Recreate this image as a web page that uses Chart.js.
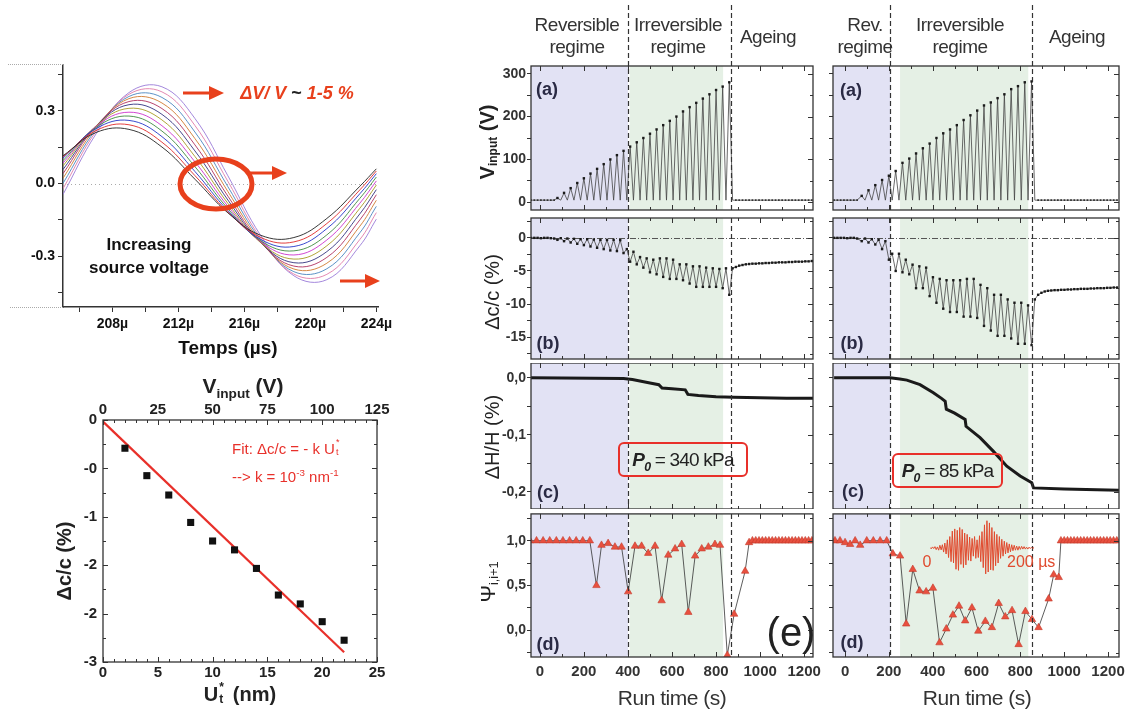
<!DOCTYPE html>
<html>
<head>
<meta charset="utf-8">
<title>Nonlinear acoustics figure</title>
<script src="https://cdn.jsdelivr.net/npm/chart.js@4.4.1/dist/chart.umd.min.js"></script>
<style>
  body { margin: 0; width: 1129px; height: 711px; position: relative; overflow: hidden; background: #fff;
         font-family: "Liberation Sans", Arial, sans-serif; color: #333; }
  canvas { position: absolute; }
  .lbl { position: absolute; white-space: nowrap; transform: translate(-50%, -50%); line-height: 1; }
  .rot { transform: translate(-50%, -50%) rotate(-90deg); }
  .head { font-size: 19px; line-height: 22px; text-align: center; letter-spacing: -0.5px; color: #333; }
  .pl { font-weight: bold; font-size: 18px; color: #2a2a44; }
  .box { position: absolute; border: 2px solid #e8302a; border-radius: 6px; box-sizing: border-box;
         display: flex; align-items: center; justify-content: center; font-size: 19px; letter-spacing: -0.8px; color: #222; }
  .dots { position: absolute; height: 0; border-top: 1px dotted #aaa; }
  sub, sup { font-size: 65%; line-height: 0; }
  .tsub { font-size: 60%; vertical-align: -0.25em; }
  .st { position: relative; display: inline-block; width: 9px; height: 1em; vertical-align: top; }
  .st span { position: absolute; left: 1px; font-size: 60%; }
</style>
</head>
<body>
<canvas id="sine" width="400" height="297" style="left:0px;top:40px"></canvas>
<canvas id="dcfit" width="360" height="290" style="left:40px;top:398px"></canvas>

<canvas id="Ra" width="309" height="214" style="left:820px;top:0px"></canvas>
<canvas id="Rb" width="309" height="149" style="left:820px;top:214px"></canvas>
<canvas id="Rc" width="309" height="146" style="left:820px;top:363px"></canvas>
<canvas id="Rd" width="309" height="178" style="left:820px;top:509px"></canvas>
<canvas id="La" width="345" height="214" style="left:480px;top:0px"></canvas>
<canvas id="Lb" width="345" height="149" style="left:480px;top:214px"></canvas>
<canvas id="Lc" width="345" height="146" style="left:480px;top:363px"></canvas>
<canvas id="Ld" width="345" height="178" style="left:480px;top:509px"></canvas>
<canvas id="burst" width="104" height="60" style="left:930px;top:518px"></canvas>

<!-- top-left annotations -->
<div class="dots" style="left:8px;top:64px;width:55px"></div>
<div class="dots" style="left:10px;top:307px;width:53px"></div>
<svg width="1129" height="711" style="position:absolute;left:0;top:0">
  <ellipse cx="216" cy="184" rx="36" ry="25" fill="none" stroke="#e8401c" stroke-width="5"/>
  <g stroke="#e8401c" stroke-width="3" fill="#e8401c">
    <line x1="183" y1="93" x2="212" y2="93"/><polygon points="209,86 224,93 209,100" stroke="none"/>
    <line x1="250" y1="173" x2="275" y2="173"/><polygon points="272,166 287,173 272,180" stroke="none"/>
    <line x1="340" y1="281" x2="368" y2="281"/><polygon points="365,274 380,281 365,288" stroke="none"/>
  </g>
</svg>
<div class="lbl" style="left:297px;top:93px;font-size:18px;font-weight:bold;font-style:italic;color:#e8401c">
  ΔV/ V <span style="color:#222;font-style:normal">~</span> 1-5 %</div>
<div class="lbl" style="left:149px;top:256px;font-size:17px;font-weight:bold;color:#111;line-height:23px;text-align:center">Increasing<br>source voltage</div>
<div class="lbl" style="left:228px;top:347px;font-size:19px;font-weight:bold;color:#111">Temps (µs)</div>

<!-- bottom-left annotations -->
<div class="lbl" style="left:243px;top:385px;font-size:21px;font-weight:bold;color:#222">V<sub>input</sub> (V)</div>
<div class="lbl rot" style="left:64px;top:561px;font-size:20px;font-weight:bold;color:#222">Δc/c (%)</div>
<div class="lbl" style="left:240px;top:694px;font-size:20px;font-weight:bold;color:#222">U<span class="st"><span style="top:-3px">*</span><span style="top:9px">t</span></span> (nm)</div>
<div style="position:absolute;left:232px;top:441px;font-size:15px;line-height:1;color:#e8302a;white-space:nowrap">Fit: Δc/c = - k U<span class="st" style="width:7px"><span style="top:-3px">*</span><span style="top:7px">t</span></span></div>
<div style="position:absolute;left:232px;top:469px;font-size:15px;line-height:1;color:#e8302a;white-space:nowrap">--&gt; k = 10<sup>-3</sup> nm<sup>-1</sup></div>

<!-- right figure headers and titles -->
<div class="lbl head" style="left:577px;top:36px">Reversible<br>regime</div>
<div class="lbl head" style="left:678px;top:36px">Irreversible<br>regime</div>
<div class="lbl head" style="left:768px;top:37px">Ageing</div>
<div class="lbl head" style="left:865px;top:36px">Rev.<br>regime</div>
<div class="lbl head" style="left:960px;top:36px">Irreversible<br>regime</div>
<div class="lbl head" style="left:1077px;top:37px">Ageing</div>

<div class="lbl rot" style="left:488px;top:142px;font-size:20px;font-weight:bold;color:#222">V<span class="tsub">input</span> (V)</div>
<div class="lbl rot" style="left:492px;top:292px;font-size:20px;color:#222">Δc/c (%)</div>
<div class="lbl rot" style="left:492px;top:437px;font-size:20px;color:#222">ΔH/H (%)</div>
<div class="lbl rot" style="left:489px;top:582px;font-size:21px;color:#222">Ψ<span class="tsub">i,i+1</span></div>

<div class="lbl pl" style="left:547px;top:89px">(a)</div>
<div class="lbl pl" style="left:548px;top:343px">(b)</div>
<div class="lbl pl" style="left:548px;top:492px">(c)</div>
<div class="lbl pl" style="left:548px;top:644px">(d)</div>
<div class="lbl pl" style="left:851px;top:90px">(a)</div>
<div class="lbl pl" style="left:852px;top:343px">(b)</div>
<div class="lbl pl" style="left:853px;top:491px">(c)</div>
<div class="lbl pl" style="left:852px;top:642px">(d)</div>

<div class="box" style="left:618px;top:442px;width:130px;height:35px"><i><b>P<sub>0</sub></b></i>&nbsp;= 340 kPa</div>
<div class="box" style="left:892px;top:453px;width:111px;height:35px"><i><b>P<sub>0</sub></b></i>&nbsp;= 85 kPa</div>

<div class="lbl" style="left:927px;top:562px;font-size:16px;color:#e04a2e">0</div>
<div style="position:absolute;left:1007px;top:553px;font-size:16px;color:#e04a2e;white-space:nowrap">200 µs</div>
<div class="lbl" style="left:791px;top:632px;font-size:40px;color:#222">(e)</div>
<div class="lbl" style="left:672px;top:697px;font-size:21px;color:#333;letter-spacing:-0.5px">Run time (s)</div>
<div class="lbl" style="left:977px;top:697px;font-size:21px;color:#333;letter-spacing:-0.5px">Run time (s)</div>

<script>
// ---- top left: received signals, one trace per source voltage (V), read at sample times (µs)
const sineTimes = [205, 207, 209, 211, 213, 215, 217, 219, 221, 223, 224];
const sineTraces = [
  [0.115, 0.211, 0.224, 0.151, 0.018, -0.121, -0.214, -0.223, -0.144, -0.011, 0.061],
  [0.111, 0.219, 0.243, 0.171, 0.033, -0.118, -0.223, -0.241, -0.165, -0.026, 0.052],
  [0.105, 0.227, 0.261, 0.194, 0.050, -0.112, -0.231, -0.260, -0.186, -0.042, 0.041],
  [0.095, 0.232, 0.279, 0.217, 0.070, -0.104, -0.237, -0.278, -0.212, -0.061, 0.027],
  [0.085, 0.236, 0.295, 0.239, 0.090, -0.094, -0.241, -0.295, -0.233, -0.081, 0.011],
  [0.073, 0.238, 0.311, 0.263, 0.112, -0.082, -0.245, -0.312, -0.257, -0.102, -0.006],
  [0.058, 0.238, 0.326, 0.286, 0.135, -0.068, -0.245, -0.327, -0.281, -0.125, -0.025],
  [0.041, 0.237, 0.339, 0.310, 0.160, -0.052, -0.244, -0.341, -0.305, -0.150, -0.046],
  [0.022, 0.231, 0.351, 0.333, 0.186, -0.033, -0.240, -0.353, -0.329, -0.176, -0.069],
  [0.001, 0.224, 0.360, 0.356, 0.213, -0.013, -0.234, -0.364, -0.352, -0.203, -0.094],
  [-0.021, 0.216, 0.369, 0.379, 0.240, 0.009, -0.227, -0.374, -0.375, -0.231, -0.120],
  [-0.045, 0.205, 0.376, 0.400, 0.269, 0.032, -0.216, -0.381, -0.397, -0.257, -0.147],
];
const sineColors = ['#222222', '#e02a2a', '#2436c8', '#3f8a3f', '#cc33cc', '#a89a22',
                    '#33337f', '#b0305e', '#d07a30', '#4a86c0', '#e07aa8', '#9a7ad8'];

// ---- bottom left: velocity change vs displacement
const utNm = [2, 4, 6, 8, 10, 12, 14, 16, 18, 20, 22];
const dcMeasured = [-0.35, -0.69, -0.93, -1.27, -1.50, -1.61, -1.84, -2.17, -2.28, -2.50, -2.73];
const fitUt = [0, 22];
const fitDc = [-0.02, -2.88];
const dcTickLabels = ['0', '-0', '-1', '-2', '-2', '-3'];

// ---- right figure, left column (P0 = 340 kPa), times in s
const leftCycleT = [80, 110, 140, 170, 200, 230, 260, 290, 320, 350, 380, 410, 440, 470, 500, 530, 560,
                    590, 620, 650, 680, 710, 740, 770, 800, 830, 860];
const leftVPeak = [10, 22, 33, 45, 56, 67, 78, 89, 100, 110, 120, 130, 140, 150, 160, 170, 180,
                   190, 200, 212, 222, 232, 242, 252, 262, 270, 280];
const leftDcLow = [-0.3, -0.5, -0.7, -0.9, -1.1, -1.3, -1.5, -1.7, -1.9, -2.0, -2.3, -3.6, -4.0, -4.5, -5.2, -5.5, -5.9,
                   -6.2, -6.2, -6.4, -6.9, -7.4, -7.4, -7.4, -7.4, -7.6, -8.6];
const leftDcHigh = [-0.05, -0.1, -0.15, -0.2, -0.2, -0.25, -0.3, -0.3, -0.3, -0.35, -1.7, -2.1, -2.9, -3.1, -3.3, -3.1, -3.1,
                    -3.3, -4.0, -4.0, -4.3, -4.3, -4.5, -4.6, -4.7, -4.6, -4.6];
const leftPreT = [-40, -25, -10, 5, 20, 35, 50, 65];
const leftVPre = [5, 5, 5, 5, 5, 5, 5, 5];
const leftDcPre = [0, 0, 0, -0.05, 0, 0, -0.05, -0.1];
const leftPostT = [890, 905, 920, 935, 950, 965, 980, 995, 1010, 1025, 1040, 1055, 1070, 1085, 1100, 1115,
                   1130, 1145, 1160, 1175, 1190, 1205, 1220, 1235];
const leftVPost = [5, 5, 5, 5, 5, 5, 5, 5, 5, 5, 5, 5, 5, 5, 5, 5, 5, 5, 5, 5, 5, 5, 5, 5];
const leftDcPost = [-4.4, -4.2, -4.1, -4.0, -3.95, -3.9, -3.9, -3.85, -3.85, -3.8, -3.8, -3.75, -3.75, -3.7, -3.7, -3.7,
                    -3.65, -3.65, -3.6, -3.6, -3.6, -3.55, -3.55, -3.5];
const leftHT = [-40, 380, 420, 460, 500, 540, 555, 600, 660, 672, 720, 800, 880, 1000, 1120, 1240];
const leftHV = [0, -0.001, -0.003, -0.006, -0.009, -0.012, -0.018, -0.019, -0.021, -0.029, -0.031, -0.033,
                -0.034, -0.035, -0.036, -0.036];
const leftPsiT = [-45, -15, 15, 45, 75, 105, 135, 165, 195, 227, 257, 280, 310, 341, 371, 401, 432, 462, 492, 523,
                  553, 583, 614, 644, 674, 705, 735, 765, 795, 818, 851, 882, 932, 950, 965, 980, 995, 1010, 1025,
                  1040, 1055, 1070, 1085, 1100, 1115, 1130, 1145, 1160, 1175, 1190, 1205, 1220, 1235];
const leftPsiV = [1, 1, 1, 1, 1, 1, 1, 1, 1, 1, 0.5, 0.95, 0.97, 0.93, 0.93, 0.43, 0.94, 0.94, 0.86, 0.94,
                  0.33, 0.84, 0.91, 0.96, 0.2, 0.83, 0.91, 0.93, 0.96, 0.95, -0.28, 0.18, 0.66, 0.98, 1, 1, 1, 1, 1,
                  1, 1, 1, 1, 1, 1, 1, 1, 1, 1, 1, 1, 1, 1];

// ---- right figure, right column (P0 = 85 kPa)
const rightCycleT = [76, 107, 138, 169, 200, 231, 262, 293, 324, 355, 386, 417, 448, 479, 510, 541, 572,
                     603, 634, 665, 696, 727, 758, 789, 820, 851];
const rightVPeak = [15, 28, 40, 52, 62, 73, 92, 102, 114, 126, 137, 150, 161, 170, 180, 192, 203,
                    214, 226, 233, 243, 252, 264, 271, 280, 282];
const rightDcLow = [-0.5, -0.7, -1.0, -1.7, -3.3, -5.0, -5.2, -5.5, -7.6, -7.6, -8.8, -9.8, -10.7, -11.2, -11.2, -11.9, -11.9,
                    -12.1, -13.3, -14.0, -14.8, -14.8, -15.2, -16.0, -16.0, -16.2];
const rightDcHigh = [-0.1, -0.2, -0.3, -0.5, -2.4, -2.4, -3.3, -4.05, -4.3, -4.5, -5.95, -6.2, -6.4, -6.4, -6.4, -6.2, -6.2,
                     -7.1, -7.6, -8.6, -8.6, -9.3, -9.8, -9.8, -10.2, -9.3];
const rightPreT = [-50, -35, -20, -5, 10, 25, 40, 55];
const rightVPre = [5, 5, 5, 5, 5, 5, 5, 5];
const rightDcPre = [0, 0, 0, 0, -0.05, 0, 0, -0.1];
const rightPostT = [881, 896, 911, 926, 941, 956, 971, 986, 1001, 1016, 1031, 1046, 1061, 1076, 1091, 1106,
                    1121, 1136, 1151, 1166, 1181, 1196, 1211, 1226, 1241];
const rightVPost = [5, 5, 5, 5, 5, 5, 5, 5, 5, 5, 5, 5, 5, 5, 5, 5, 5, 5, 5, 5, 5, 5, 5, 5, 5];
const rightDcPost = [-8.6, -8.3, -8.1, -8.0, -7.95, -7.9, -7.9, -7.85, -7.85, -7.8, -7.8, -7.75, -7.75, -7.7, -7.7, -7.7,
                     -7.65, -7.65, -7.6, -7.6, -7.6, -7.55, -7.55, -7.5, -7.5];
const rightHT = [-50, 205, 250, 282, 342, 403, 440, 457, 462, 500, 548, 552, 616, 677, 738, 799, 852, 860, 1000, 1250];
const rightHV = [0, 0, -0.002, -0.004, -0.012, -0.026, -0.036, -0.041, -0.055, -0.062, -0.073, -0.085, -0.105,
                 -0.129, -0.155, -0.172, -0.184, -0.193, -0.195, -0.197];
const rightPsiT = [-46, -23, 0, 23, 46, 69, 99, 129, 160, 190, 218, 251, 279, 309, 340, 370, 401, 431, 462, 492,
                   520, 548, 579, 608, 640, 670, 701, 731, 762, 792, 823, 853, 883, 929, 952, 975, 985, 1000, 1015,
                   1030, 1045, 1060, 1075, 1090, 1105, 1120, 1135, 1150, 1165, 1180, 1195, 1210, 1225, 1240];
const rightPsiV = [1, 1, 0.98, 0.96, 1, 0.95, 1, 1, 1, 1, 0.855, 0.83, 0.07, 0.68, 0.44, 0.43, 0.47, -0.14, 0.015, 0.17,
                   0.27, 0.105, 0.25, -0.01, 0.1, 0.03, 0.3, 0.15, 0.22, -0.16, 0.21, 0.12, 0.03, 0.35, 0.62, 0.59, 1.0,
                   1, 1, 1, 1, 1, 1, 1, 1, 1, 1, 1, 1, 1, 1, 1, 1, 1];

// inset: acoustic emission burst (arbitrary units, 0-200 µs)
const burstSignal = [
  0.02, -0.03, 0.04, -0.02, 0.05, -0.06, 0.04, -0.08, 0.1, -0.07,
  0.12, -0.15, 0.18, -0.22, 0.3, -0.35, 0.42, -0.5, 0.62, -0.55,
  0.7, -0.78, 0.65, -0.82, 0.75, -0.6, 0.68, -0.72, 0.55, -0.62,
  0.5, -0.45, 0.4, -0.48, 0.35, -0.3, 0.42, -0.38, 0.3, -0.35,
  0.45, -0.5, 0.6, -0.72, 0.85, -0.95, 1.0, -0.88, 0.92, -0.8,
  0.75, -0.82, 0.6, -0.65, 0.5, -0.55, 0.42, -0.38, 0.32, -0.3,
  0.25, -0.22, 0.2, -0.18, 0.15, -0.14, 0.12, -0.1, 0.1, -0.08,
  0.07, -0.08, 0.06, -0.05, 0.06, -0.04, 0.05, -0.04, 0.03, -0.04,
  0.03, -0.02, 0.03, -0.02, 0.02,
];

const vTroughLevel = 5;   // V_input between load cycles
const cycleGap = 15;      // s between a cycle maximum and the following rest point

// regime limits (s): shaded spans and dashed separators
const leftRegions = [[-40, 400, '#e2e2f4'], [408, 832, '#e5f0e5']];
const leftSeparators = [400, 868];
const rightRegions = [[-55, 207, '#e2e2f4'], [251, 836, '#e5f0e5']];
const rightSeparators = [207, 855];

Chart.defaults.font.family = '"Liberation Sans", Arial, sans-serif';
const tickFont = { size: 15, weight: 'bold' };
const panelTickFont = { size: 14, weight: 'bold' };
const hiddenGrid = { display: false, drawTicks: false, tickLength: 0 };

const pts = (xs, ys) => xs.map((x, i) => ({ x, y: ys[i] }));
const isMult = (v, step) => Math.abs(v / step - Math.round(v / step)) < 1e-6;

function cycles(times, first, second) {
  const out = [];
  times.forEach((t, i) => {
    out.push({ x: t, y: first[i] }, { x: t + cycleGap, y: second[i] });
  });
  return out;
}

function fix(s, w, h) {
  if (w != null) s.width = w;
  if (h != null) s.height = h;
  s.paddingLeft = s.paddingRight = s.paddingTop = s.paddingBottom = 0;
}

// shading, dashed separators, box frame and inward ticks
function frame(cfg) {
  const eachTick = (s, minor, major, cb) => {
    const i0 = Math.ceil(s.min / minor - 1e-9), i1 = Math.floor(s.max / minor + 1e-9);
    for (let i = i0; i <= i1; i++) {
      const v = i * minor;
      cb(v, isMult(v, major) ? 5 : 3);
    }
  };
  return {
    id: 'frame',
    beforeDatasetsDraw(chart) {
      const { ctx, chartArea: a, scales } = chart;
      ctx.save();
      (cfg.regions || []).forEach(([from, to, color]) => {
        const x1 = Math.max(a.left, scales.x.getPixelForValue(from));
        const x2 = Math.min(a.right, scales.x.getPixelForValue(to));
        ctx.fillStyle = color;
        ctx.fillRect(x1, a.top, x2 - x1, a.bottom - a.top);
      });
      (cfg.hLines || []).forEach(h => {
        const py = Math.round(scales.y.getPixelForValue(h.value)) + 0.5;
        ctx.strokeStyle = h.color;
        ctx.lineWidth = h.width || 1;
        ctx.setLineDash(h.dash);
        ctx.beginPath();
        ctx.moveTo(a.left, py);
        ctx.lineTo(a.right, py);
        ctx.stroke();
      });
      ctx.restore();
    },
    afterDatasetsDraw(chart) {
      const { ctx, chartArea: a, scales } = chart;
      ctx.save();
      ctx.strokeStyle = '#333';
      ctx.lineWidth = 1.2;
      ctx.setLineDash([5, 3]);
      (cfg.dashes || []).forEach(v => {
        const px = Math.round(scales.x.getPixelForValue(v)) + 0.5;
        ctx.beginPath();
        ctx.moveTo(px, cfg.dashTop != null ? cfg.dashTop : a.top);
        ctx.lineTo(px, a.bottom);
        ctx.stroke();
      });
      ctx.restore();
    },
    afterDraw(chart) {
      if (cfg.noFrame) return;
      const { ctx, chartArea: a } = chart;
      ctx.save();
      ctx.strokeStyle = '#333';
      ctx.lineWidth = 1;
      ctx.beginPath();
      (cfg.x || []).forEach(([id, minor, major, sides]) => {
        const s = chart.scales[id];
        eachTick(s, minor, major, (v, len) => {
          const p = Math.round(s.getPixelForValue(v)) + 0.5;
          if (sides.includes('t')) { ctx.moveTo(p, a.top); ctx.lineTo(p, a.top + len); }
          if (sides.includes('b')) { ctx.moveTo(p, a.bottom); ctx.lineTo(p, a.bottom - len); }
        });
      });
      (cfg.y || []).forEach(([id, minor, major, sides]) => {
        const s = chart.scales[id];
        eachTick(s, minor, major, (v, len) => {
          const p = Math.round(s.getPixelForValue(v)) + 0.5;
          if (sides.includes('l')) { ctx.moveTo(a.left, p); ctx.lineTo(a.left + len, p); }
          if (sides.includes('r')) { ctx.moveTo(a.right, p); ctx.lineTo(a.right - len, p); }
        });
      });
      ctx.stroke();
      ctx.lineWidth = 1.3;
      ctx.strokeRect(a.left, a.top, a.right - a.left, a.bottom - a.top);
      ctx.restore();
    },
  };
}

// ---------- top left: waveforms ----------
new Chart(document.getElementById('sine'), {
  type: 'line',
  data: {
    datasets: sineTraces.map((trace, i) => ({
      data: pts(sineTimes, trace),
      borderColor: sineColors[i],
      borderWidth: 0.9,
      pointRadius: 0,
      tension: 0.4,
    })),
  },
  options: {
    responsive: false,
    animation: false,
    layout: { padding: { top: 25, right: 22, left: 0, bottom: 0 } },
    plugins: { legend: { display: false }, tooltip: { enabled: false } },
    scales: {
      x: {
        type: 'linear', min: 205, max: 224.1,
        ticks: { stepSize: 2, includeBounds: false, autoSkip: false, maxRotation: 0, padding: 4,
                 font: { size: 14, weight: 'bold' }, color: '#111',
                 callback: v => (v % 4 === 0 ? v + 'µ' : '') },
        grid: { drawOnChartArea: false, tickLength: 5, color: '#333' },
        border: { display: true, color: '#333', width: 1.5 },
        afterFit: s => fix(s, null, 30),
      },
      y: {
        type: 'linear', min: -0.51, max: 0.49,
        ticks: { stepSize: 0.15, includeBounds: false, autoSkip: false, padding: 3,
                 font: { size: 14, weight: 'bold' }, color: '#111',
                 callback: v => (isMult(v, 0.3) ? v.toFixed(1) : '') },
        grid: { drawOnChartArea: false, tickLength: 5, color: '#333' },
        border: { display: true, color: '#333', width: 1.5 },
        afterFit: s => fix(s, 63, null),
      },
    },
  },
  plugins: [frame({ noFrame: true, hLines: [{ value: 0, color: '#aaa', dash: [1, 3] }] })],
});

// ---------- bottom left: dc/c vs U*t ----------
new Chart(document.getElementById('dcfit'), {
  type: 'scatter',
  data: {
    datasets: [
      { data: pts(utNm, dcMeasured), pointStyle: 'rect', pointRadius: 5,
        backgroundColor: '#111', borderColor: '#111', borderWidth: 0 },
      { type: 'line', data: pts(fitUt, fitDc), borderColor: '#e8302a', borderWidth: 2.2,
        pointRadius: 0, showLine: true },
    ],
  },
  options: {
    responsive: false,
    animation: false,
    layout: { padding: { top: 0, right: 23, left: 0, bottom: 0 } },
    plugins: { legend: { display: false }, tooltip: { enabled: false } },
    scales: {
      x: {
        type: 'linear', min: 0, max: 25,
        ticks: { stepSize: 5, autoSkip: false, maxRotation: 0, padding: 2, font: tickFont, color: '#222',
                 callback: v => String(v) },
        grid: hiddenGrid, border: { display: false },
        afterFit: s => fix(s, null, 26),
      },
      x2: {
        type: 'linear', position: 'top', min: 0, max: 125,
        ticks: { stepSize: 25, autoSkip: false, maxRotation: 0, padding: 1, font: tickFont, color: '#222',
                 callback: v => String(v) },
        grid: hiddenGrid, border: { display: false },
        afterFit: s => fix(s, null, 22),
      },
      y: {
        type: 'linear', min: -3, max: 0,
        ticks: { stepSize: 0.6, autoSkip: false, padding: 6, font: tickFont, color: '#222',
                 callback: v => dcTickLabels[Math.round(-v / 0.6)] },
        grid: hiddenGrid, border: { display: false },
        afterFit: s => fix(s, 63, null),
      },
    },
  },
  plugins: [frame({
    x: [['x', 1, 5, 'b'], ['x2', 5, 25, 't']],
    y: [['y', 0.3, 0.6, 'lr']],
  })],
});

// ---------- right figure panels ----------
function runPanel(id, o) {
  const fmt = o.fmt || (v => String(v));
  return new Chart(document.getElementById(id), {
    type: 'line',
    data: { datasets: o.datasets },
    options: {
      responsive: false,
      animation: false,
      layout: { padding: { top: o.padTop || 0, right: o.padRight, left: 0, bottom: 0 } },
      plugins: { legend: { display: false }, tooltip: { enabled: false } },
      scales: {
        x: {
          type: 'linear', min: o.xMin, max: o.xMax, display: !!o.showX,
          ticks: { stepSize: 200, includeBounds: false, autoSkip: false, maxRotation: 0, padding: 6,
                   font: tickFont, color: '#333', callback: v => String(v) },
          grid: hiddenGrid,
          border: { display: false },
          afterFit: s => fix(s, null, o.showX ? 30 : 0),
        },
        y: {
          type: 'linear', min: o.yMin, max: o.yMax,
          ticks: { stepSize: o.yMinor, includeBounds: false, autoSkip: false, display: o.yLabels, padding: 1,
                   font: panelTickFont, color: '#333', callback: v => (isMult(v, o.yMajor) ? fmt(v) : '') },
          grid: { drawOnChartArea: false, drawTicks: true, tickLength: 4, color: '#333' },
          border: { display: false },
          afterFit: s => fix(s, o.yWidth, null),
        },
      },
    },
    plugins: [frame({
      regions: o.regions, dashes: o.dashes, dashTop: o.dashTop, hLines: o.hLines,
      x: [['x', 100, 200, 'tb']],
      y: [['y', o.yMinor, o.yMajor, 'r']],
    })],
  });
}

const comma = d => v => v.toFixed(d).replace('.', ',');
const zigLine = { borderColor: '#444', borderWidth: 0.8, pointRadius: 0, tension: 0 };
const sqPoints = { showLine: false, pointStyle: 'rect', pointRadius: 1.7, backgroundColor: '#1a1a1a', borderWidth: 0 };
const restPoints = { showLine: false, pointStyle: 'rect', pointRadius: 1.2, backgroundColor: '#333', borderWidth: 0 };

function column(side) {
  const L = side === 'L';
  const cyc = L ? leftCycleT : rightCycleT;
  const common = {
    xMin: L ? -40 : -55, xMax: L ? 1240 : 1250,
    yWidth: L ? 51 : 13, padRight: L ? 12 : 10, yLabels: L,
    regions: L ? leftRegions : rightRegions,
    dashes: L ? leftSeparators : rightSeparators,
  };
  const preT = L ? leftPreT : rightPreT, postT = L ? leftPostT : rightPostT;
  const peaks = L ? leftVPeak : rightVPeak;
  const trough = cyc.map(() => vTroughLevel);

  // (a) input voltage
  const vPre = pts(preT, L ? leftVPre : rightVPre), vPost = pts(postT, L ? leftVPost : rightVPost);
  runPanel(side + 'a', Object.assign({}, common, {
    padTop: 66, dashTop: 5, yMin: -18, yMax: 318, yMinor: 50, yMajor: 100,
    datasets: [
      Object.assign({ data: pts(cyc, peaks) }, sqPoints),
      Object.assign({ data: vPre.concat(vPost) }, restPoints),
      Object.assign({ data: vPre.concat(cycles(cyc, peaks, trough), vPost) }, zigLine),
    ],
  }));

  // (b) relative velocity change
  const dPre = pts(preT, L ? leftDcPre : rightDcPre), dPost = pts(postT, L ? leftDcPost : rightDcPost);
  const dcSeries = dPre.concat(cycles(cyc, L ? leftDcLow : rightDcLow, L ? leftDcHigh : rightDcHigh), dPost);
  runPanel(side + 'b', Object.assign({}, common, {
    yMin: -18.3, yMax: 3, yMinor: 2.5, yMajor: 5,
    hLines: [{ value: 0, color: '#555', dash: [6, 2, 1, 2] }],
    datasets: [
      Object.assign({ data: dcSeries }, sqPoints),
      Object.assign({ data: dcSeries }, zigLine),
    ],
  }));

  // (c) relative height change
  runPanel(side + 'c', Object.assign({}, common, {
    yMin: -0.23, yMax: 0.026, yMinor: 0.05, yMajor: 0.1, fmt: comma(1),
    datasets: [{ data: pts(L ? leftHT : rightHT, L ? leftHV : rightHV), borderColor: '#1a1a1a',
                 borderWidth: 3, pointRadius: 0, tension: 0 }],
  }));

  // (d) correlation coefficient
  runPanel(side + 'd', Object.assign({}, common, {
    showX: true, yMin: -0.3, yMax: 1.3, yMinor: 0.25, yMajor: 0.5, fmt: comma(1),
    datasets: [{
      data: pts(L ? leftPsiT : rightPsiT, L ? leftPsiV : rightPsiV),
      borderColor: '#333', borderWidth: 0.8, tension: 0,
      pointStyle: 'triangle', pointRadius: 4.3, pointBackgroundColor: '#e8503f',
      pointBorderColor: '#c43a2c', pointBorderWidth: 0.6,
    }],
  }));
}

column('R');
column('L');

// inset burst
new Chart(document.getElementById('burst'), {
  type: 'line',
  data: {
    labels: burstSignal.map((_, i) => i),
    datasets: [{ data: burstSignal, borderColor: '#e04a2e', borderWidth: 1, pointRadius: 0, tension: 0 }],
  },
  options: {
    responsive: false,
    animation: false,
    layout: { padding: 0 },
    plugins: { legend: { display: false }, tooltip: { enabled: false } },
    scales: { x: { display: false }, y: { display: false, min: -1.1, max: 1.1 } },
  },
});
</script>
</body>
</html>
